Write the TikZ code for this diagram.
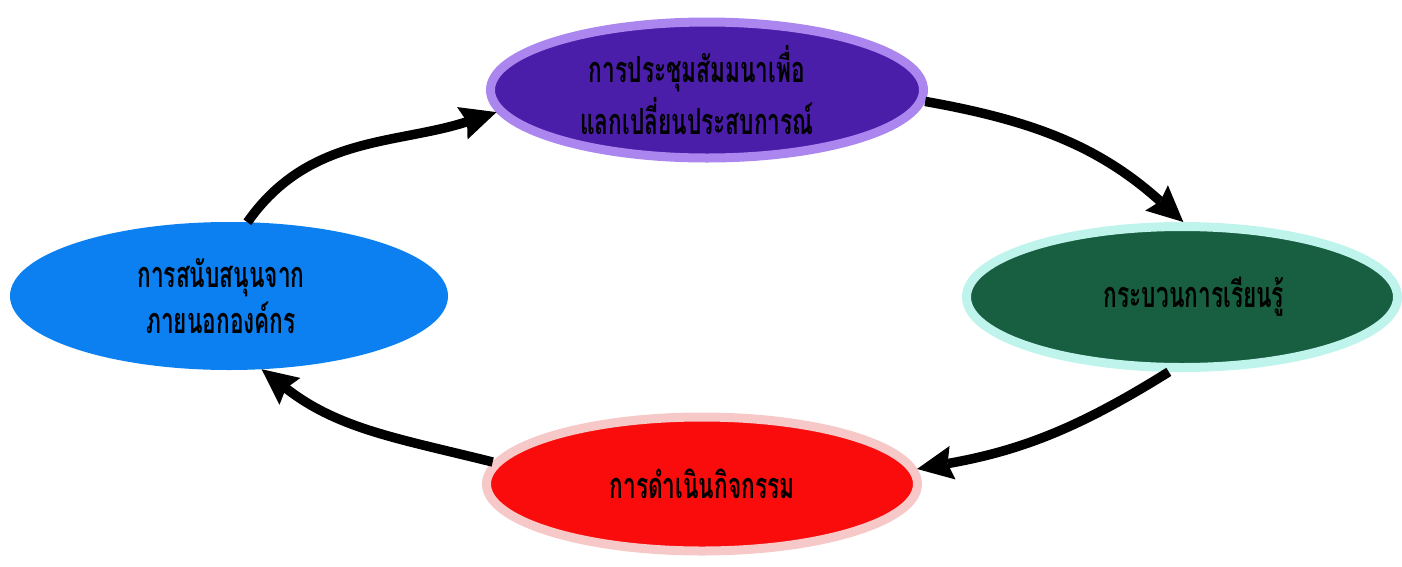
\documentclass[tikz,border=0pt]{standalone}
\usepackage{fontspec}
\newfontfamily\thaifont[Script=Thai,FakeStretch=0.63]{Loma}
\usetikzlibrary{shapes.geometric,arrows.meta}
\definecolor{topfill}{RGB}{74,30,168}
\definecolor{topedge}{RGB}{170,134,238}
\definecolor{rightfill}{RGB}{24,94,64}
\definecolor{rightedge}{RGB}{190,244,236}
\definecolor{botfill}{RGB}{250,12,12}
\definecolor{botedge}{RGB}{246,200,200}
\definecolor{leftfill}{RGB}{12,128,240}
\tikzset{
  oval/.style={ellipse, line width=9pt, align=center, font=\thaifont\bfseries\fontsize{36}{39}\selectfont, text=black, inner sep=0pt},
  flow/.style={line width=9.5pt, -{Stealth[length=36pt,width=34pt,inset=5pt,line width=0pt]}, black},
}
\begin{document}
\begin{tikzpicture}[x=1pt,y=-1pt]
\useasboundingbox (0,0) rectangle (1402,566);
\node[oval, fill=topfill, draw=topedge, minimum width=433pt, minimum height=136pt] (meet) at (707,90)
  {\raisebox{-6pt}{\shortstack{การประชุมสัมมนาเพื่อ\\[2pt]แลกเปลี่ยนประสบการณ์}}\hspace*{20pt}};
\node[oval, fill=rightfill, draw=rightedge, minimum width=431pt, minimum height=141pt] (learn) at (1182,297)
  {\hspace*{24pt}กระบวนการเรียนรู้};
\node[oval, fill=botfill, draw=botedge, minimum width=431pt, minimum height=134pt] (act) at (702,484)
  {\raisebox{-6pt}{การดำเนินกิจกรรม}};
\node[oval, fill=leftfill, draw=leftfill, line width=2pt, minimum width=436pt, minimum height=146pt] (supp) at (229,296)
  {\shortstack{การสนับสนุนจาก\\[2pt]ภายนอกองค์กร}\hspace*{16pt}};
\draw[flow] (supp.76) to[out=55,in=198] (meet.186);
\draw[flow] (meet.-3) to[out=-10,in=138] (learn.89);
\draw[flow] (learn.-100) to[out=-148,in=10] (act.4);
\draw[flow] (act.174) to[out=166,in=-38] (supp.-66);
\end{tikzpicture}
\end{document}
